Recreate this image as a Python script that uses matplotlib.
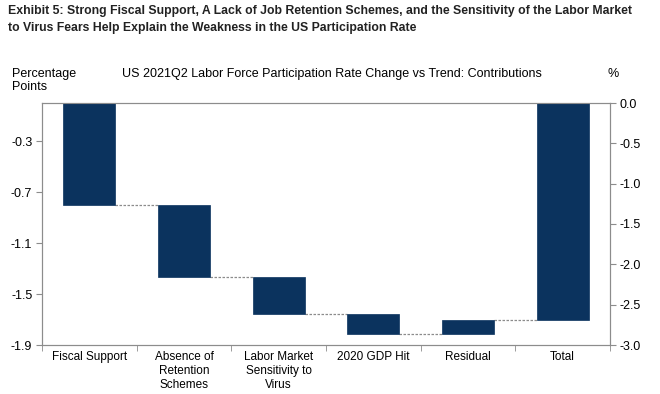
import matplotlib
matplotlib.use("Agg")
import matplotlib.pyplot as plt
import numpy as np

categories = ["Fiscal Support", "Absence of\nRetention\nSchemes", "Labor Market\nSensitivity to\nVirus",
              "2020 GDP Hit", "Residual", "Total"]
contributions = [-0.80, -0.57, -0.29, -0.15, 0.11]
left_ticks = [-1.9, -1.5, -1.1, -0.7, -0.3]
right_ticks = [0.0, -0.5, -1.0, -1.5, -2.0, -2.5, -3.0]

navy = "#0B335E"
grey = "#8C8C8C"
plt.rcParams['font.family'] = ['Liberation Sans', 'DejaVu Sans']

fig = plt.figure(figsize=(6.6, 3.94), dpi=100)
ax = fig.add_axes([42/660, 49/394, 568/660, 242/394])

total = sum(contributions)
starts = np.concatenate([[0.0], np.cumsum(contributions)[:-1]])
ends = np.cumsum(contributions)
x = np.arange(len(categories))
w = 0.55
bottoms = list(starts) + [0.0]
heights = list(contributions) + [total]
ax.bar(x, heights, bottom=bottoms, width=w, color=navy, edgecolor=navy, linewidth=0.5, zorder=3)

# connectors
levels = list(ends)
for i in range(len(categories) - 1):
    ax.plot([x[i] + w/2, x[i+1] - w/2], [levels[i], levels[i]], ls=(0, (2, 1.2)),
            color=grey, lw=0.9, zorder=2)

ax.set_xlim(-0.5, len(categories) - 0.5)
ax.set_ylim(-1.9, 0.0)
ax.set_yticks(left_ticks)
ax.set_yticklabels([f"{v:.1f}" for v in left_ticks])
ax.set_xticks(x)
ax.set_xticklabels(categories, fontsize=8.5, linespacing=1.25, va='top')
ax.set_xticks(np.arange(len(categories) + 1) - 0.5, minor=True)
ax.tick_params(axis='x', which='major', length=0, pad=4)
ax.tick_params(axis='x', which='minor', length=4, color=grey, direction='out')
ax.tick_params(axis='y', length=4, color=grey, labelsize=9, direction='out', pad=3)
for s in ax.spines.values():
    s.set_color(grey)
    s.set_linewidth(0.8)

ax2 = ax.twinx()
ax2.set_ylim(-3.0, 0.0)
ax2.set_yticks(right_ticks)
ax2.set_yticklabels([f"{v:.1f}" for v in right_ticks])
ax2.tick_params(axis='y', length=4, color=grey, labelsize=9, direction='out', pad=3)
for s in ax2.spines.values():
    s.set_color(grey)
    s.set_linewidth(0.8)

fig.text(8/660, 1 - 5/394, "Exhibit 5: Strong Fiscal Support, A Lack of Job Retention Schemes, and the Sensitivity of the Labor Market\nto Virus Fears Help Explain the Weakness in the US Participation Rate",
         ha='left', va='top', fontsize=8.85, fontweight='bold', family=['Liberation Sans', 'DejaVu Sans'],
         color='#222222', linespacing=1.6)
fig.text(12/660, 1 - 68/394, "Percentage\nPoints", ha='left', va='top', fontsize=9, linespacing=1.1)
fig.text(122/660, 1 - 68/394, "US 2021Q2 Labor Force Participation Rate Change vs Trend: Contributions",
         ha='left', va='top', fontsize=9)
fig.text(608/660, 1 - 68/394, "%", ha='left', va='top', fontsize=9)

fig.savefig("out.png", dpi=100)
